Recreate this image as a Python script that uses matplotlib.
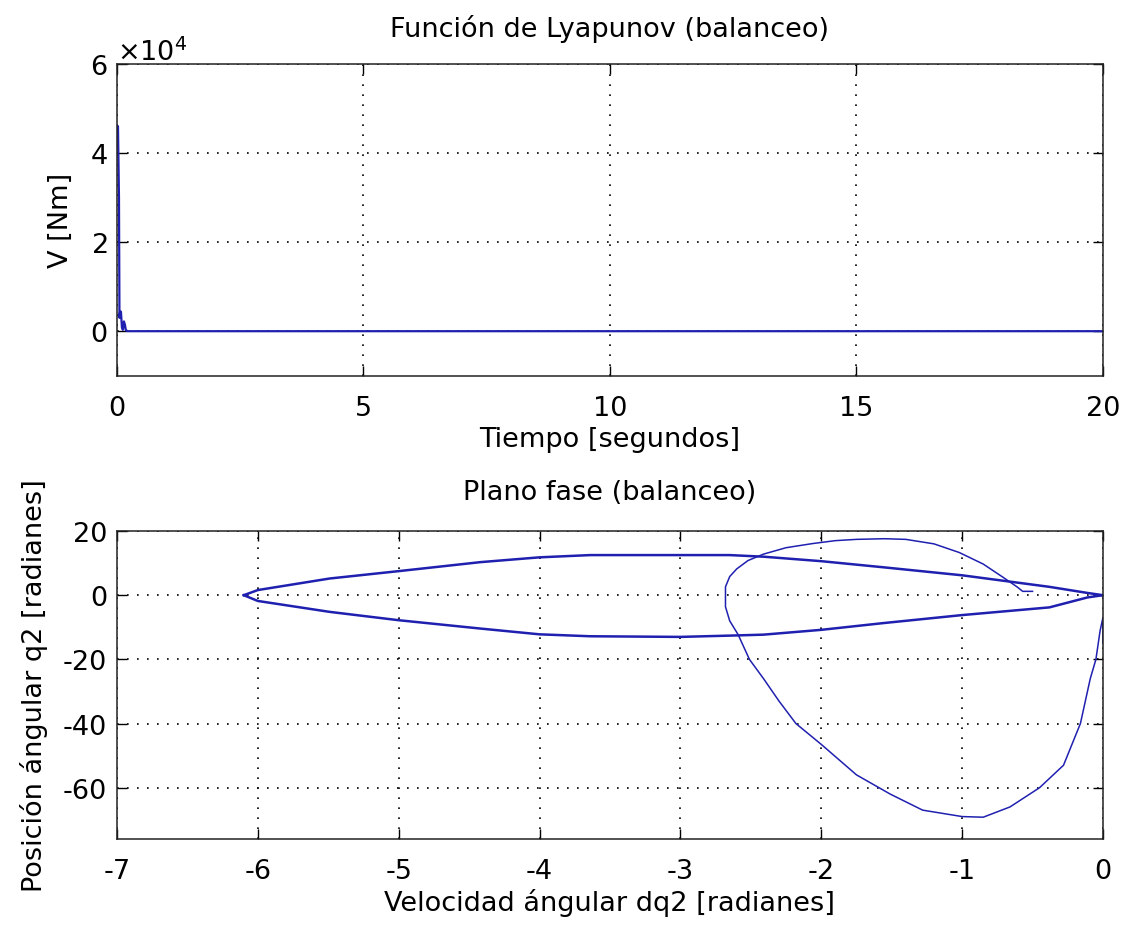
import matplotlib
matplotlib.use("Agg")
from matplotlib import pyplot as plt
from matplotlib.ticker import ScalarFormatter

# Lyapunov function V over time (spike at the start, then ~0)
t_vals = [0, 0.02, 0.04, 0.05, 0.06, 0.08, 0.10, 0.12, 0.14, 0.16, 0.18, 0.22, 20]
v_vals = [46000, 46000, 30000, 3000, 4200, 4400, 800, 300, 2200, 1500, 200, 0, 0]

# phase plane: transient loop
loop_x = [0, 0, -0.02, -0.05, -0.09, -0.16, -0.28, -0.45, -0.66, -0.85, -1.0,
          -1.28, -1.51, -1.75, -2.0, -2.18, -2.30, -2.41, -2.51, -2.59, -2.65,
          -2.68, -2.68, -2.65, -2.60, -2.52, -2.41, -2.25, -2.06, -1.90, -1.75,
          -1.55, -1.40, -1.20, -1.02, -0.85, -0.71, -0.61, -0.57, -0.50]
loop_y = [-15, -7, -11, -20, -26, -40, -53, -60, -66, -69.2, -69, -67, -62,
          -56, -46.5, -40, -33, -26, -20, -12.3, -8, -3.6, 2.6, 5.8, 8.2, 10.8,
          12.8, 14.8, 16.1, 17.0, 17.4, 17.6, 17.4, 16.0, 13.3, 9.7, 5.6, 2.6,
          1.2, 1.2]

# phase plane: periodic lens-shaped orbit
lens_x = [0, -0.11, -0.38, -1.0, -1.56, -2.0, -2.41, -2.65, -3.0, -3.64, -4.0,
          -4.42, -5.0, -5.49, -6.0, -6.1]
lens_up = [0, 0.7, 2.6, 6.2, 8.7, 10.6, 12.0, 12.5, 12.5, 12.5, 11.8, 10.3,
           7.5, 5.2, 1.6, 0]
lens_low = [0, -0.7, -3.8, -6.2, -8.7, -10.8, -12.3, -12.6, -13.0, -12.8,
            -12.2, -10.4, -7.8, -5.2, -1.8, 0]

blue = "#2020b0"
fs = 19.5
plt.rcParams["font.family"] = "DejaVu Sans"
plt.rcParams["font.size"] = fs
plt.rcParams["axes.unicode_minus"] = False

fig = plt.figure(figsize=(11.25, 9.28), dpi=100)
ax1 = fig.add_axes([0.104, 0.594, 0.8764, 0.3362])
ax2 = fig.add_axes([0.104, 0.0948, 0.8764, 0.3319])


def style(ax):
    ax.grid(True, color="black", linestyle=(0, (1, 5)), linewidth=1.2)
    ax.tick_params(direction="in", length=7.5, width=1, top=True, right=True,
                   labelsize=fs, colors="black")
    ax.tick_params(axis="x", pad=13.5)
    ax.tick_params(axis="y", pad=7)
    for s in ax.spines.values():
        s.set_linewidth(1.1)
        s.set_color("#222222")


ax1.plot(t_vals, v_vals, color=blue, lw=1.6)
ax1.set_xlim(0, 20)
ax1.set_ylim(-10000, 60000)
ax1.set_xticks([0, 5, 10, 15, 20])
ax1.set_yticks([0, 20000, 40000, 60000])
fmt = ScalarFormatter(useMathText=True)
fmt.set_powerlimits((0, 0))
ax1.yaxis.set_major_formatter(fmt)
ax1.yaxis.get_offset_text().set_fontsize(fs)
ax1.set_title("Función de Lyapunov (balanceo)", fontsize=fs, pad=20)
ax1.set_xlabel("Tiempo [segundos]", fontsize=fs, labelpad=4)
ax1.set_ylabel("V [Nm]", fontsize=fs, labelpad=11)
style(ax1)

ax2.plot(lens_x, lens_up, color=blue, lw=1.8)
ax2.plot(lens_x, lens_low, color=blue, lw=1.8)
ax2.plot(loop_x, loop_y, color=blue, lw=1.1)
ax2.set_xlim(-7, 0)
ax2.set_ylim(-76, 20)
ax2.set_xticks(range(-7, 1))
ax2.set_yticks([-60, -40, -20, 0, 20])
ax2.set_title("Plano fase (balanceo)", fontsize=fs, pad=23)
ax2.set_xlabel("Velocidad ángular dq2 [radianes]", fontsize=fs, labelpad=3)
ax2.set_ylabel("Posición ángular q2 [radianes]", fontsize=fs, labelpad=11)
style(ax2)

fig.savefig("out.png", dpi=100)
